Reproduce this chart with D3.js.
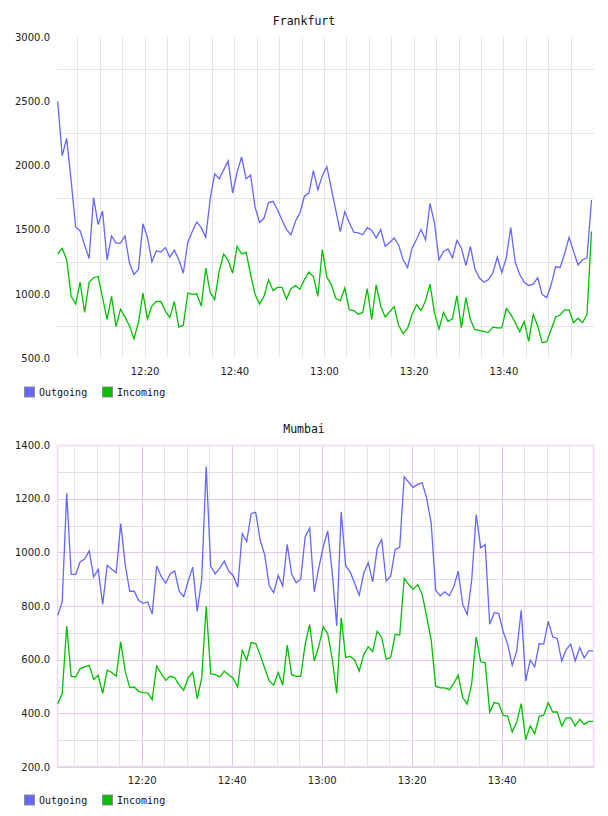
<!DOCTYPE html>
<html><head><meta charset="utf-8">
<script src="https://cdn.jsdelivr.net/npm/d3@7"></script>
<style>body{margin:0;background:#fff}svg{display:block}</style>
</head><body>
<svg id="c" width="608" height="816"></svg>
<script>
// ---------- data ----------
const seriesNames = ["Outgoing", "Incoming"];
const seriesColors = ["#6666ff", "#00c000"];

const frankfurtStart = "12:00:38";   // first sample, one sample per minute
const frankfurtOutgoing = [
  2500,2075,2210,1880,1520,1490,1380,1275,1750,1540,
  1645,1265,1450,1395,1395,1450,1240,1150,1190,1545,
  1440,1250,1335,1325,1360,1285,1340,1265,1160,1400,
  1485,1560,1515,1440,1740,1935,1895,1965,2035,1785,
  1950,2065,1895,1925,1675,1555,1590,1710,1720,1655,
  1575,1500,1460,1565,1630,1760,1785,1960,1810,1920,
  1990,1820,1650,1485,1640,1555,1480,1475,1460,1515,
  1495,1435,1500,1370,1400,1435,1380,1265,1205,1355,
  1425,1500,1420,1705,1550,1265,1330,1350,1280,1415,
  1355,1220,1370,1195,1125,1090,1110,1160,1285,1165,
  1280,1515,1245,1150,1090,1065,1075,1125,995,970,
  1070,1210,1205,1310,1440,1330,1225,1265,1280,1730
];
const frankfurtIncoming = [
  1310,1355,1265,980,920,1090,855,1090,1125,1135,
  970,800,980,745,880,820,750,650,775,1005,
  805,905,940,940,865,815,940,740,755,1005,
  995,1000,905,1200,1010,955,1175,1310,1260,1160,
  1370,1310,1325,1150,995,920,980,1110,1025,1050,
  1050,960,1040,1065,1035,1110,1170,1135,980,1345,
  1130,1070,965,945,1045,875,870,840,855,1040,
  800,1070,905,820,860,900,755,690,730,840,
  915,870,945,1075,850,725,855,785,805,985,
  735,970,800,720,715,705,700,740,735,735,
  885,840,775,705,785,630,840,750,620,625,
  720,820,835,875,875,775,810,775,840,1485
];

const mumbaiStart = "12:01:19";
const mumbaiOutgoing = [
  765,815,1220,918,918,965,975,1005,908,937,
  806,952,937,924,1107,955,855,855,820,810,
  815,770,950,910,885,920,930,855,835,893,
  945,780,900,1320,948,920,940,967,930,914,
  870,1070,1040,1145,1149,1045,990,875,850,914,
  875,1030,918,887,900,1058,1090,853,940,1020,
  1080,927,726,1151,949,927,884,840,921,962,
  890,1015,1048,893,911,1011,1019,1282,1261,1242,
  1253,1259,1201,1108,859,838,853,838,871,930,
  806,768,896,1141,1017,1029,732,775,772,704,
  658,579,632,784,521,598,573,660,658,743,
  685,679,595,638,658,595,645,607,633,633
];
const mumbaiIncoming = [
  436,474,725,538,536,567,573,579,526,542,
  474,561,552,538,666,557,496,498,482,477,
  476,451,576,548,523,538,533,505,486,532,
  553,455,532,799,548,544,536,557,544,530,
  498,635,598,664,660,617,569,521,505,552,
  505,654,544,538,538,658,731,595,648,722,
  697,604,474,756,608,613,598,558,619,648,
  631,706,682,602,608,695,691,903,880,863,
  880,843,760,673,501,495,495,488,511,542,
  459,434,511,685,592,589,405,440,436,393,
  389,331,368,436,302,353,324,389,393,440,
  405,405,353,383,383,353,378,359,370,370
];

const timeLabels = ["12:20", "12:40", "13:00", "13:20", "13:40"];
const frankfurtYTicks = [500, 1000, 1500, 2000, 2500, 3000];
const frankfurtYGrid = [750, 1250, 1750, 2250, 2750];
const mumbaiYTicks = [200, 400, 600, 800, 1000, 1200, 1400];
const mumbaiYMinor = [300, 500, 700, 900, 1100, 1300];

// ---------- drawing ----------
const svg = d3.select("#c");
const parseT = d3.timeParse("%H:%M:%S");
const parseHM = d3.timeParse("%H:%M");
const fmt = d3.format(".1f");

function drawChart(o) {
  const g = svg.append("g");
  const t0 = parseT(o.start);
  const n = o.series[0].length;
  const times = d3.range(n).map(i => d3.timeMinute.offset(t0, i));
  const x = d3.scaleTime().domain([times[0], times[n - 1]]).range(o.xRange);
  const y = d3.scaleLinear().domain(o.yDomain).range([o.bottom, o.top]);
  const left = o.left, right = o.right;

  // vertical grid every 5 minutes
  const grid5 = d3.timeMinute.every(5).range(d3.timeMinute.ceil(times[0]), d3.timeMinute.offset(times[n - 1], -1));
  const majorSet = new Set(timeLabels);
  g.append("g").selectAll("line").data(grid5).join("line")
    .attr("x1", d => Math.round(x(d)) + 0.5).attr("x2", d => Math.round(x(d)) + 0.5)
    .attr("y1", o.top).attr("y2", o.bottom)
    .attr("stroke", d => (o.purple && majorSet.has(d3.timeFormat("%H:%M")(d))) ? "#dcc6e0" : "#e6e6e6")
    .attr("stroke-width", 1);

  // horizontal minor grid
  g.append("g").selectAll("line").data(o.yGrid).join("line")
    .attr("x1", left).attr("x2", right)
    .attr("y1", d => Math.round(y(d)) + 0.5).attr("y2", d => Math.round(y(d)) + 0.5)
    .attr("stroke", o.purple ? "#e4dce6" : "#e6e6e6").attr("stroke-width", 1);

  if (o.purple) {
    g.append("g").selectAll("line").data(o.yTicks).join("line")
      .attr("x1", left).attr("x2", right)
      .attr("y1", d => Math.round(y(d)) + 0.5).attr("y2", d => Math.round(y(d)) + 0.5)
      .attr("stroke", "#e2c8e4").attr("stroke-width", 1);
    g.append("rect").attr("x", left + 0.5).attr("y", o.top + 0.5)
      .attr("width", right - left - 1).attr("height", o.bottom - o.top - 1)
      .attr("fill", "none").attr("stroke", "#eedcef").attr("stroke-width", 1.5);
  }

  // y axis labels
  const ya = d3.axisLeft(y).tickValues(o.yTicks).tickFormat(fmt).tickSize(0).tickPadding(7);
  const yg = g.append("g").attr("transform", `translate(${left},0)`).call(ya);
  yg.select(".domain").remove();
  yg.selectAll("text").attr("font-family", "DejaVu Sans, Verdana, sans-serif").attr("font-size", 10).attr("fill", "#222");

  // x axis labels
  const xa = d3.axisBottom(x).tickValues(timeLabels.map(s => {
    const p = parseHM(s); const d = new Date(t0); d.setHours(p.getHours(), p.getMinutes(), 0, 0); return d;
  })).tickFormat(d3.timeFormat("%H:%M")).tickSize(0).tickPadding(10);
  const xg = g.append("g").attr("transform", `translate(0,${o.bottom})`).call(xa);
  xg.select(".domain").remove();
  xg.selectAll("text").attr("font-family", "DejaVu Sans, Verdana, sans-serif").attr("font-size", 10).attr("fill", "#222");

  // lines
  const line = d3.line().x((d, i) => x(times[i])).y(d => y(d));
  o.series.forEach((s, k) => {
    g.append("path").datum(s).attr("d", line)
      .attr("fill", "none").attr("stroke", seriesColors[k]).attr("stroke-width", 1.3)
      .attr("stroke-linejoin", "miter");
  });

  // title
  g.append("text").attr("x", 304).attr("y", o.titleY).attr("text-anchor", "middle")
    .attr("dominant-baseline", "central")
    .attr("font-family", "DejaVu Sans Mono, monospace").attr("font-size", 11.5).attr("fill", "#111")
    .text(o.title);

  // legend
  const lg = g.append("g").attr("transform", `translate(0,${o.legendY})`);
  const lx = [24, 102];
  seriesNames.forEach((nm, k) => {
    lg.append("rect").attr("x", lx[k] + 0.5).attr("y", -5.5).attr("width", 10).attr("height", 10)
      .attr("fill", seriesColors[k]).attr("stroke", "#8c8c8c").attr("stroke-width", 1);
    lg.append("text").attr("x", lx[k] + 15).attr("y", 0).attr("dominant-baseline", "central")
      .attr("font-family", "DejaVu Sans Mono, monospace").attr("font-size", 10).attr("fill", "#111")
      .text(nm);
  });
}

drawChart({
  title: "Frankfurt", titleY: 20.5, start: frankfurtStart,
  series: [frankfurtOutgoing, frankfurtIncoming],
  xRange: [57.7, 591.5], left: 57, right: 594, top: 37, bottom: 358,
  yDomain: [500, 3000], yTicks: frankfurtYTicks, yGrid: frankfurtYGrid,
  purple: false, legendY: 392.5
});
drawChart({
  title: "Mumbai", titleY: 428.5, start: mumbaiStart,
  series: [mumbaiOutgoing, mumbaiIncoming],
  xRange: [57.7, 593.2], left: 57, right: 594, top: 445, bottom: 767,
  yDomain: [200, 1400], yTicks: mumbaiYTicks, yGrid: mumbaiYMinor,
  purple: true, legendY: 800.5
});
</script>
</body></html>
